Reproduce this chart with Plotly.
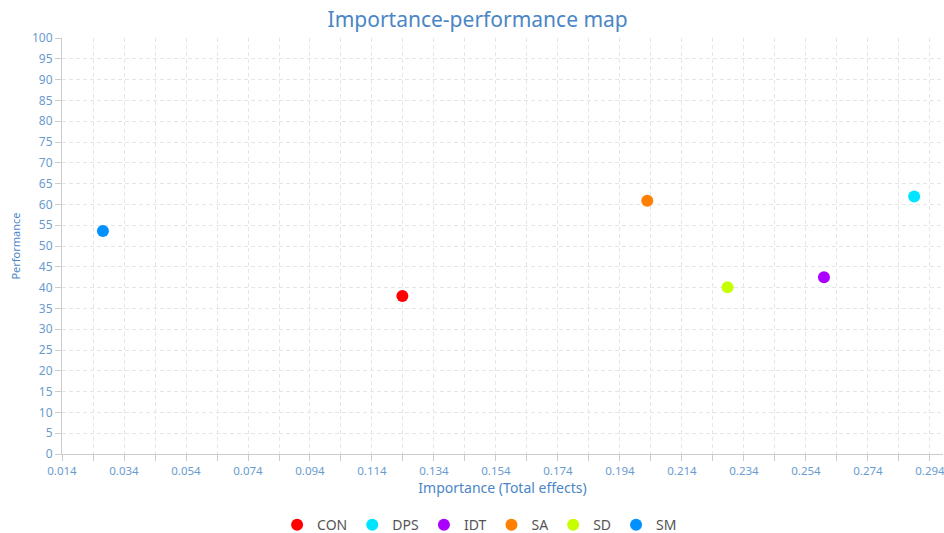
import plotly.graph_objects as go

categories = ["CON", "DPS", "IDT", "SA", "SD", "SM"]
importance = [0.1238, 0.2889, 0.2598, 0.2028, 0.2287, 0.0272]
performance = [38.0, 61.9, 42.5, 60.9, 40.1, 53.6]
colors = ["#FF0000", "#00E5FF", "#AA00FF", "#FF7F00", "#C6FF00", "#0091FF"]

FONT = "Noto Sans, Open Sans, sans-serif"
BLUE = "#4A86C5"
TICK = "#6A9BCF"
DASH = "4px,3px"

fig = go.Figure()
for name, x, y, c in zip(categories, importance, performance, colors):
    fig.add_trace(go.Scatter(
        x=[x], y=[y], mode="markers", name=name,
        marker=dict(color=c, size=12, line=dict(width=0)),
    ))

fig.update_layout(
    width=944, height=533,
    margin=dict(l=62, r=1, t=38, b=79, autoexpand=False),
    paper_bgcolor="white", plot_bgcolor="white",
    font=dict(family=FONT),
    title=dict(text="Importance-performance map", x=0.506, xanchor="center",
               y=0.964, yref="container", yanchor="middle",
               font=dict(size=21, color=BLUE, family=FONT)),
    legend=dict(orientation="h", x=0.474, xanchor="center", y=-0.171,
                yanchor="middle", font=dict(size=14, color="#555555"),
                itemsizing="constant", itemwidth=30),
    showlegend=True,
)

fig.update_xaxes(
    range=[0.014, 0.2982],
    tick0=0.014, dtick=0.02, tickformat=".3f",
    ticks="outside", ticklen=6, tickcolor="#cccccc",
    tickfont=dict(size=11.5, color=TICK),
    ticklabeloverflow="allow",
    showgrid=True, gridcolor="#e6e6e6", griddash=DASH, gridwidth=1,
    minor=dict(dtick=0.01, tick0=0.014, showgrid=True, gridcolor="#e6e6e6",
               griddash=DASH, ticks="outside", ticklen=6, tickcolor="#cccccc"),
    showline=True, linecolor="#cccccc", linewidth=1,
    zeroline=False, automargin=False,
    title=dict(text="Importance (Total effects)", font=dict(size=14, color=BLUE),
               standoff=2),
)
fig.update_yaxes(
    range=[0, 100], dtick=5, tick0=0,
    ticks="outside", ticklen=6, tickcolor="#cccccc",
    tickfont=dict(size=12, color=TICK),
    showgrid=True, gridcolor="#e6e6e6", griddash=DASH, gridwidth=1,
    showline=True, linecolor="#cccccc", linewidth=1,
    zeroline=False, automargin=False,
    title=dict(text="Performance", font=dict(size=11, color=BLUE), standoff=9),
)

fig.write_html(
    "out.html",
    config={"displayModeBar": False},
    post_script="document.body.style.margin='0';document.body.style.overflow='hidden';",
)
